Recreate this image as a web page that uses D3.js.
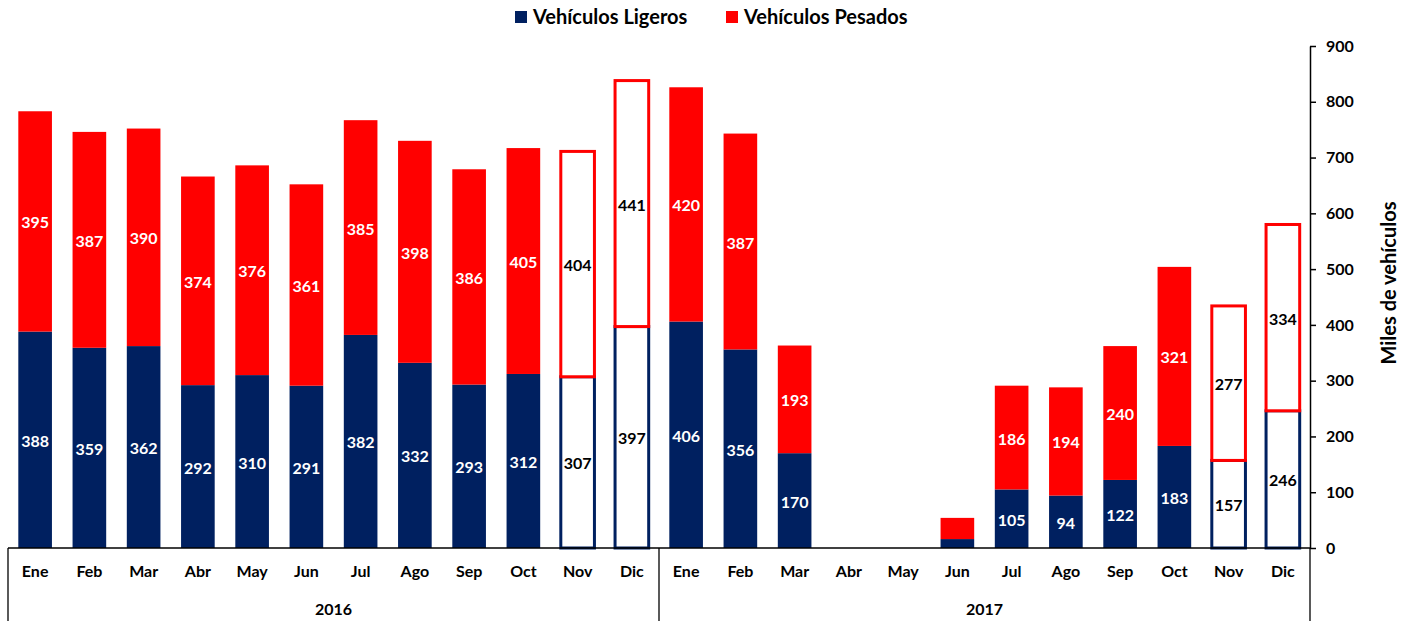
<!DOCTYPE html>
<html>
<head>
<meta charset="utf-8">
<script src="https://cdn.jsdelivr.net/npm/d3@7"></script>
<style>
  body { margin: 0; background: #fff; }
  svg { display: block; font-family: Lato, "Open Sans", sans-serif; }
  .lbl { font-size: 16px; font-weight: bold; text-anchor: middle; }
</style>
</head>
<body>
<script>
// months and years
var months = ["Ene", "Feb", "Mar", "Abr", "May", "Jun", "Jul", "Ago", "Sep", "Oct", "Nov", "Dic"];
var years = ["2016", "2017"];

// miles de vehiculos
var ligeros2016 = [388, 359, 362, 292, 310, 291, 382, 332, 293, 312, 307, 397];
var pesados2016 = [395, 387, 390, 374, 376, 361, 385, 398, 386, 405, 404, 441];
var ligeros2017 = [406, 356, 170, 0, 0, 16, 105, 94, 122, 183, 157, 246];
var pesados2017 = [420, 387, 193, 0, 0, 38, 186, 194, 240, 321, 277, 334];

// months that are drawn only as outlines (estimates)
var outlined = ["2016-Nov", "2016-Dic", "2017-Nov", "2017-Dic"];

var yTicks = [0, 100, 200, 300, 400, 500, 600, 700, 800, 900];

var navy = "#002060", red = "#ff0000";

// build rows
var rows = [];
years.forEach(function(yr, k) {
    var lig = k === 0 ? ligeros2016 : ligeros2017;
    var pes = k === 0 ? pesados2016 : pesados2017;
    months.forEach(function(m, i) {
        rows.push({ key: yr + "-" + m, year: yr, month: m, lig: lig[i], pes: pes[i] });
    });
});

var W = 1409, H = 621;
var svg = d3.select("body").append("svg").attr("width", W).attr("height", H);

var x = d3.scaleBand()
    .domain(rows.map(function(d) { return d.key; }))
    .range([8, 1310])
    .paddingInner(0.38)
    .paddingOuter(0.19);

var y = d3.scaleLinear().domain([0, 900]).range([548, 46]);

// bars
var g = svg.append("g");
rows.forEach(function(d) {
    var isOut = outlined.indexOf(d.key) >= 0;
    var bx = x(d.key), bw = x.bandwidth();
    // light vehicles
    g.append("rect")
        .attr("x", bx).attr("width", bw)
        .attr("y", y(d.lig)).attr("height", y(0) - y(d.lig))
        .attr("fill", isOut ? "#fff" : navy)
        .attr("stroke", isOut ? navy : "none")
        .attr("stroke-width", isOut ? 3 : 0);
    // heavy vehicles
    g.append("rect")
        .attr("x", bx).attr("width", bw)
        .attr("y", y(d.lig + d.pes)).attr("height", y(d.lig) - y(d.lig + d.pes))
        .attr("fill", isOut ? "#fff" : red)
        .attr("stroke", isOut ? red : "none")
        .attr("stroke-width", isOut ? 3 : 0);

    var col = isOut ? "#000" : "#fff";
    if (y(0) - y(d.lig) > 30) {
        g.append("text").attr("class", "lbl")
            .attr("x", bx + bw / 2).attr("y", (y(0) + y(d.lig)) / 2 + 7)
            .attr("fill", col).text(d.lig);
    }
    if (y(d.lig) - y(d.lig + d.pes) > 30) {
        g.append("text").attr("class", "lbl")
            .attr("x", bx + bw / 2).attr("y", (y(d.lig) + y(d.lig + d.pes)) / 2 + 7)
            .attr("fill", col).text(d.pes);
    }
});

// category axis
svg.append("g")
    .attr("transform", "translate(0,548)")
    .call(d3.axisBottom(x).tickSize(0).tickPadding(18).tickFormat(function(k) { return k.split("-")[1]; }))
    .call(function(a) {
        a.select(".domain").attr("stroke", "#000").attr("stroke-width", 1.5).attr("d", "M8,0H1310");
        a.selectAll("text").attr("font-size", 16).attr("font-weight", "bold").attr("fill", "#000").attr("font-family", "Lato, sans-serif");
    });

// year group separators
[8, (x(rows[11].key) + x.bandwidth() + x(rows[12].key)) / 2, 1310].forEach(function(px) {
    svg.append("line").attr("x1", px).attr("x2", px).attr("y1", 548).attr("y2", 621)
        .attr("stroke", "#000").attr("stroke-width", 1.3);
});
years.forEach(function(yr, k) {
    var a = x(rows[k * 12].key), b = x(rows[k * 12 + 11].key) + x.bandwidth();
    svg.append("text").attr("x", (a + b) / 2).attr("y", 615)
        .attr("text-anchor", "middle").attr("font-size", 16).attr("font-weight", "bold").text(yr);
});

// value axis on the right
svg.append("g")
    .attr("transform", "translate(1310,0)")
    .call(d3.axisRight(y).tickValues(yTicks).tickSize(6).tickSizeOuter(0).tickPadding(10))
    .call(function(a) {
        a.select(".domain").attr("stroke", "#000").attr("stroke-width", 1.5);
        a.selectAll(".tick line").attr("stroke", "#000").attr("stroke-width", 1.5);
        a.selectAll("text").attr("font-size", 16).attr("font-weight", "bold").attr("fill", "#000").attr("font-family", "Lato, sans-serif");
    });

svg.append("text")
    .attr("transform", "translate(1396,283) rotate(-90)")
    .attr("text-anchor", "middle").attr("font-size", 20).attr("font-weight", "bold")
    .text("Miles de vehículos");

// legend
var legend = [{ name: "Vehículos Ligeros", color: navy, x: 515 }, { name: "Vehículos Pesados", color: red, x: 726 }];
legend.forEach(function(l) {
    svg.append("rect").attr("x", l.x).attr("y", 11).attr("width", 12).attr("height", 12).attr("fill", l.color);
    svg.append("text").attr("x", l.x + 18).attr("y", 24).attr("font-size", 20).attr("font-weight", "bold").text(l.name);
});
</script>
</body>
</html>
